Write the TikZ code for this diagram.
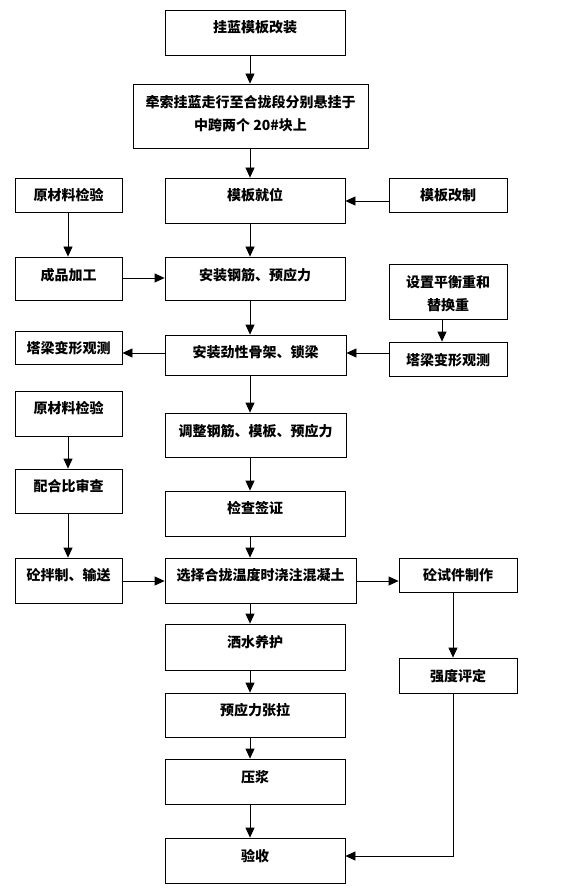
\documentclass[tikz,border=0pt]{standalone}
\usepackage{fontspec}
\setmainfont{Noto Sans CJK SC}
\usetikzlibrary{arrows.meta}
\tikzset{
  boxshape/.style={draw=black, line width=0.8pt, rectangle, inner sep=0pt, fill=white},
  boxtext/.style={inner sep=0pt, align=center, font=\fontsize{14pt}{23pt}\selectfont\bfseries},
  arr/.style={draw=black, line width=0.8pt, -{Triangle[length=10pt,width=9pt]}},
}
\newcommand\flowbox[7]{%
  \node[boxshape, minimum width={(#4-#2)*1pt}, minimum height={(#5-#3)*1pt}] (#1) at ({(#2+#4)/2},{(#3+#5)/2}) {};
  \node[boxtext] (#1t) at ({(#2+#4)/2},#6) {#7};
}
\begin{document}
\begin{tikzpicture}[x=1pt,y=-1pt]
\useasboundingbox[fill=white] (0,0) rectangle (565,890);
% main column
\flowbox{b1}{165}{10}{345}{55}{27}{挂蓝模板改装}
\flowbox{b2}{133}{84}{368}{148}{113.5}{牵索挂蓝走行至合拢段分别悬挂于\\中跨两个 20\#块上}
\flowbox{b3}{165}{178}{345}{223}{195}{模板就位}
\flowbox{b4}{165}{257}{345}{300}{275}{安装钢筋、预应力}
\flowbox{b5}{165}{335}{346}{375}{352}{安装劲性骨架、锁梁}
\flowbox{b6}{165}{413}{346}{457}{431}{调整钢筋、模板、预应力}
\flowbox{b7}{165}{491}{345}{536}{508}{检查签证}
\flowbox{b8}{165}{558}{356}{603}{575}{选择合拢温度时浇注混凝土}
\flowbox{b9}{165}{624}{345}{670}{642}{洒水养护}
\flowbox{b10}{165}{693}{345}{737}{710}{预应力张拉}
\flowbox{b11}{165}{759}{345}{804}{777}{压浆}
\flowbox{b12}{165}{838}{345}{883}{856}{验收}
% left column
\flowbox{l1}{15}{178}{122}{212}{195}{原材料检验}
\flowbox{l2}{15}{257}{122}{300}{275}{成品加工}
\flowbox{l3}{15}{331}{122}{364}{348}{塔梁变形观测}
\flowbox{l4}{15}{391}{122}{436}{408}{原材料检验}
\flowbox{l5}{15}{469}{122}{513}{486}{配合比审查}
\flowbox{l6}{15}{558}{122}{603}{575}{砼拌制、输送}
% right column
\flowbox{r1}{389}{178}{507}{212}{195}{模板改制}
\flowbox{r2}{389}{264}{507}{319}{293.5}{设置平衡重和\\替换重}
\flowbox{r3}{389}{342}{507}{376}{360}{塔梁变形观测}
\flowbox{r4}{399}{558}{517}{592}{575}{砼试件制作}
\flowbox{r5}{399}{658}{517}{693}{676}{强度评定}
% guide coordinates
\coordinate (mx) at (250,0);
\coordinate (lx) at (68,0);
\coordinate (rx) at (442,0);
\coordinate (sx) at (453,0);
\coordinate (y201) at (0,201);
\coordinate (y278) at (0,278);
\coordinate (y353) at (0,353);
\coordinate (y581) at (0,581);
\coordinate (y856) at (0,856);
% main arrows
\foreach \a/\b in {b1/b2,b2/b3,b3/b4,b4/b5,b5/b6,b6/b7,b7/b8,b8/b9,b9/b10,b10/b11,b11/b12}
  \draw[arr] (\a.south -| mx) -- (\b.north -| mx);
% left arrows
\foreach \a/\b in {l1/l2,l4/l5,l5/l6}
  \draw[arr] (\a.south -| lx) -- (\b.north -| lx);
\draw[arr] (l2.east |- y278) -- (b4.west |- y278);
\draw[arr] (l6.east |- y581) -- (b8.west |- y581);
\draw[arr] (b5.west |- y353) -- (l3.east |- y353);
% right arrows
\draw[arr] (r1.west |- y201) -- (b3.east |- y201);
\draw[arr] (r2.south -| rx) -- (r3.north -| rx);
\draw[arr] (r3.west |- y353) -- (b5.east |- y353);
\draw[arr] (b8.east |- y581) -- (r4.west |- y581);
\draw[arr] (r4.south -| sx) -- (r5.north -| sx);
\draw[arr] (r5.south -| sx) |- (b12.east |- y856);
\end{tikzpicture}
\end{document}
